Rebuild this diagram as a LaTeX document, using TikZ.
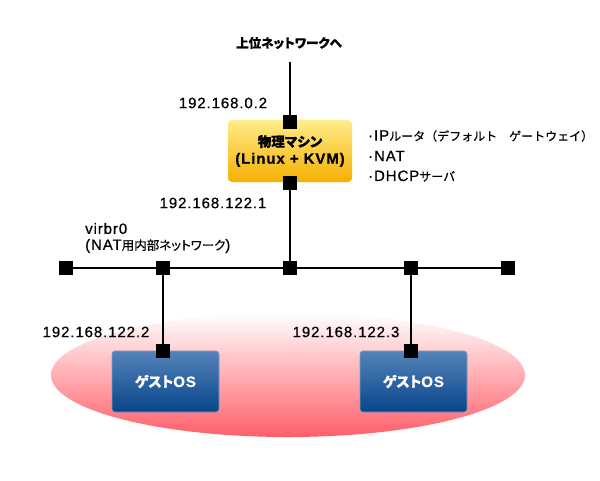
\documentclass[tikz,border=0pt]{standalone}
\usepackage{fontspec}
\setmainfont{Liberation Sans}[LetterSpace=6, FakeBold=0.7]
\newfontfamily\jpf{Noto Sans CJK JP}[RawFeature=+palt, FakeBold=0.5]
\newfontfamily\jpw{Noto Sans CJK JP}[FakeBold=0.5]
\newcommand{\jpt}[1]{{\jpf\fontsize{12.5}{15}\selectfont #1}}
\newcommand{\jpn}[1]{{\jpw\fontsize{12}{15}\selectfont #1}}
\definecolor{boxtop}{HTML}{FFEC8A}
\definecolor{boxbot}{HTML}{F5B000}
\definecolor{gtop}{HTML}{5583BA}
\definecolor{gbot}{HTML}{07458A}
\definecolor{etop}{HTML}{FFFFFF}
\definecolor{ebot}{HTML}{FF5E68}
\tikzset{
  lat/.style={font=\fontsize{15}{17}\selectfont, inner sep=0pt},
  sq/.style={fill=black, minimum size=13pt, inner sep=0pt},
  wire/.style={line width=2.2pt, black},
  hostbox/.style={rounded corners=4pt, top color=boxtop, bottom color=boxbot, draw=none,
     minimum width=124pt, minimum height=62pt, align=center, inner sep=0pt,
     font=\bfseries\fontsize{15}{16}\selectfont},
  guestbox/.style={rounded corners=3pt, top color=gtop, bottom color=gbot, draw=gtop!80!white,
     line width=0.6pt, minimum width=107pt, minimum height=61pt, inner sep=0pt,
     text=white, font=\bfseries\fontsize{15}{17}\selectfont},
  lan/.style={top color=etop, bottom color=ebot, draw=none}
}
\begin{document}
\begin{tikzpicture}[x=1pt,y=-1pt]
\useasboundingbox (0,0) rectangle (600,480);
% LAN ellipse
\shade[lan] (288,375) ellipse [x radius=237, y radius=62];
% top label and line end
\node[lat] (up) at (289,43) {\jpt{\bfseries 上位ネットワークへ}};
\coordinate (uplink) at (290,62);
% host box
\node[hostbox] (host) at (290,151) {\jpt{\bfseries\fontsize{13.5}{15}\selectfont 物理マシン}\\[1pt](Linux + KVM)};
\node[sq] (hs1) at (290,122) {};
\node[sq] (hs2) at (290,183) {};
% bus squares
\node[sq] (b1) at (66,268) {};
\node[sq] (b2) at (163,268) {};
\node[sq] (b3) at (290,268) {};
\node[sq] (b4) at (411,268) {};
\node[sq] (b5) at (508,268) {};
% guest boxes
\node[guestbox] (g1) at (165.5,381.5) {\jpt{\bfseries\fontsize{14}{16}\selectfont ゲスト}OS};
\node[guestbox] (g2) at (413.5,381.5) {\jpt{\bfseries\fontsize{14}{16}\selectfont ゲスト}OS};
\node[sq] (gs1) at (163,351) {};
\node[sq] (gs2) at (411,351) {};
% wires
\draw[wire] (uplink) -- (hs1);
\draw[wire] (hs2) -- (b3);
\draw[wire] (b1) -- (b2) -- (b3) -- (b4) -- (b5);
\draw[wire] (b2) -- (gs1);
\draw[wire] (b4) -- (gs2);
% squares on top of wires
\foreach \n in {hs1,hs2,b1,b2,b3,b4,b5,gs1,gs2} {\fill (\n.south west) rectangle (\n.north east);}
% labels
\node[lat] (ip0) at (223,103) {192.168.0.2};
\node[lat] (ip1) at (213,203) {192.168.122.1};
\node[lat, anchor=west, align=left] (virbr) at (85,238) {virbr0\\[-1pt](NAT\jpt{用内部ネットワーク})};
\node[lat] (ip2) at (96,332) {192.168.122.2};
\node[lat] (ip3) at (346,332) {192.168.122.3};
\node[lat, anchor=west] (f1) at (368,136) {·IP\jpn{ルータ（デフォルト　ゲートウェイ）}};
\node[lat, anchor=west] (f2) at (368,156) {·NAT};
\node[lat, anchor=west] (f3) at (368,176) {·DHCP\jpn{サーバ}};
\end{tikzpicture}
\end{document}
